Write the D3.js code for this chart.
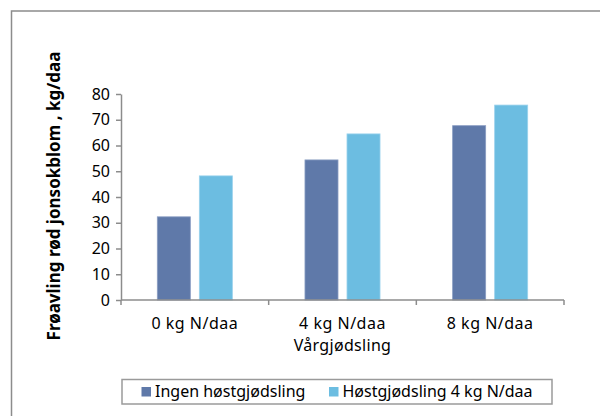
<!DOCTYPE html>
<html>
<head>
<meta charset="utf-8">
<script src="https://cdn.jsdelivr.net/npm/d3@7"></script>
<style>
  html, body { margin: 0; padding: 0; background: #fff; }
  svg { display: block; }
  text { font-family: "Noto Sans", "DejaVu Sans", sans-serif; fill: #000; }
</style>
</head>
<body>
<svg id="chart" width="600" height="416"></svg>
<script>
// Seed yield of red clover by spring and autumn fertilisation
const categories = ["0 kg N/daa", "4 kg N/daa", "8 kg N/daa"];
const seriesNames = ["Ingen høstgjødsling", "Høstgjødsling 4 kg N/daa"];
const ingenHost = [32.3, 54.4, 67.7];
const host4 = [48.2, 64.5, 75.7];
const yTicks = [0, 10, 20, 30, 40, 50, 60, 70, 80];
const xTitle = "Vårgjødsling";
const yTitle = "Frøavling rød jonsokblom , kg/daa";

const colors = ["#5f79a9", "#6cbde1"];
const edgeColors = ["#8a9dc2", "#9ad2ec"];
const seriesValues = [ingenHost, host4];

const svg = d3.select("#chart");

// outer frame (runs off the right and bottom edges)
svg.append("rect")
  .attr("x", 11.5).attr("y", 11)
  .attr("width", 620).attr("height", 440)
  .attr("fill", "none").attr("stroke", "#8c8c8c").attr("stroke-width", 1.5);

const plot = { left: 121, right: 564, top: 94, bottom: 300 };

const x = d3.scaleBand().domain(categories).range([plot.left, plot.right]);
const xs = d3.scaleBand().domain(d3.range(seriesNames.length))
  .range([0, x.bandwidth()]).paddingInner(0.214).paddingOuter(0.864);
const y = d3.scaleLinear().domain([0, 80]).range([plot.bottom, plot.top]);

// bars
categories.forEach((c, ci) => {
  seriesValues.forEach((vals, si) => {
    svg.append("rect")
      .attr("x", x(c) + xs(si))
      .attr("y", y(vals[ci]))
      .attr("width", xs.bandwidth())
      .attr("height", y(0) - y(vals[ci]))
      .attr("fill", colors[si])
      .attr("stroke", edgeColors[si])
      .attr("stroke-width", 0.8);
  });
});

// y axis
const yAxis = svg.append("g")
  .attr("transform", `translate(${plot.left},0)`)
  .call(d3.axisLeft(y).tickValues(yTicks).tickSize(5).tickPadding(6).tickSizeOuter(0));
yAxis.select(".domain").attr("stroke", "#8c8c8c").attr("stroke-width", 1.5);
yAxis.selectAll(".tick line").attr("stroke", "#8c8c8c").attr("stroke-width", 1.5);
yAxis.selectAll(".tick text").attr("font-size", 16).attr("font-family", "Noto Sans").attr("fill", "#000");

// x axis with ticks at category boundaries
const xAxisG = svg.append("g").attr("transform", `translate(0,${plot.bottom})`);
xAxisG.append("line")
  .attr("x1", plot.left).attr("x2", plot.right)
  .attr("stroke", "#8c8c8c").attr("stroke-width", 1.5);
const bounds = categories.map(c => x(c)).concat([x(categories[categories.length - 1]) + x.bandwidth()]);
xAxisG.selectAll("line.b").data(bounds).enter().append("line")
  .attr("class", "b")
  .attr("x1", d => d).attr("x2", d => d)
  .attr("y1", 0).attr("y2", 5)
  .attr("stroke", "#8c8c8c").attr("stroke-width", 1.5);
xAxisG.selectAll("text.cat").data(categories).enter().append("text")
  .attr("class", "cat")
  .attr("x", d => x(d) + x.bandwidth() / 2)
  .attr("y", 29)
  .attr("text-anchor", "middle")
  .attr("font-size", 16)
  .attr("letter-spacing", 0.5)
  .text(d => d);

// axis titles
svg.append("text")
  .attr("x", (plot.left + plot.right) / 2)
  .attr("y", 351)
  .attr("text-anchor", "middle")
  .attr("font-size", 16)
  .attr("letter-spacing", 0.3)
  .text(xTitle);

svg.append("text")
  .attr("transform", `translate(60,${196}) rotate(-90)`)
  .attr("text-anchor", "middle")
  .attr("font-size", 17)
  .attr("font-weight", "bold")
  .text(yTitle);

// legend
const legend = svg.append("g");
legend.append("rect")
  .attr("x", 122).attr("y", 379.5)
  .attr("width", 430).attr("height", 24.5)
  .attr("fill", "#fff").attr("stroke", "#9a9a9a").attr("stroke-width", 1.5);
const legendX = [141.5, 329];
seriesNames.forEach((name, i) => {
  legend.append("rect")
    .attr("x", legendX[i]).attr("y", 387)
    .attr("width", 9.5).attr("height", 9.5)
    .attr("fill", colors[i]);
  legend.append("text")
    .attr("x", legendX[i] + 13.5).attr("y", 397)
    .attr("font-size", 16)
    .text(name);
});
</script>
</body>
</html>
